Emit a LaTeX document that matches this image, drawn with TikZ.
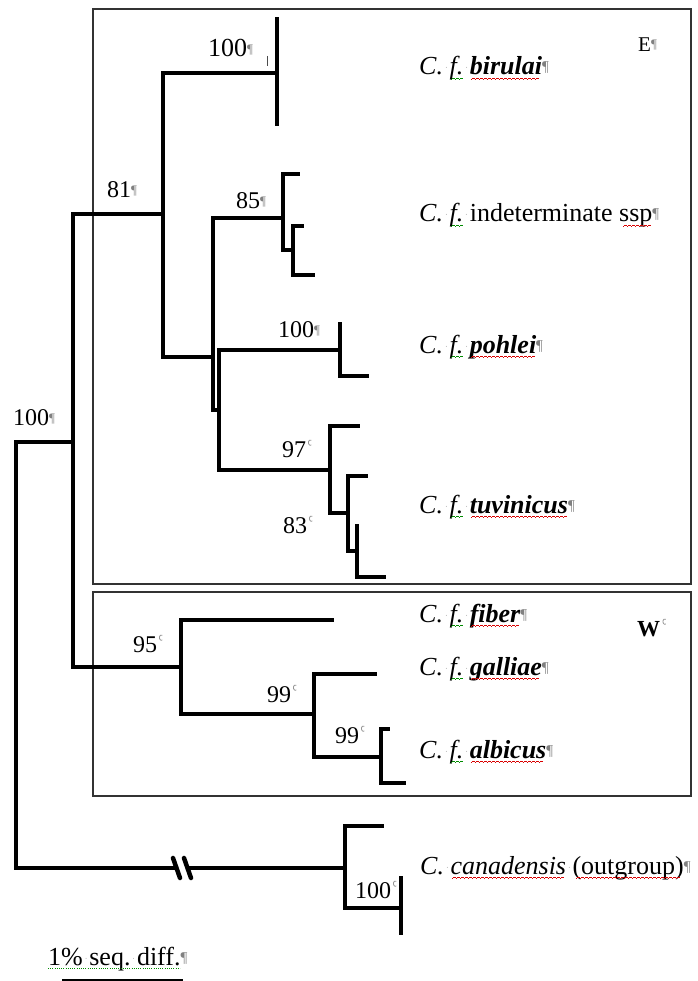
\documentclass[tikz,border=0pt]{standalone}
\usepackage{fontspec}
\setmainfont{Liberation Serif}
\usetikzlibrary{calc}

% proofing underlines: red wave (spelling), green wave (grammar),
% built from small stepped rules repeated with \leaders
\newsavebox\wordbox
\newcommand\waveunit[1]{\hbox{{\color{#1}%
  \rule[-4.8pt]{1pt}{0.8pt}\rule[-4.1pt]{1pt}{0.8pt}%
  \rule[-3.4pt]{1pt}{0.8pt}\rule[-4.1pt]{1pt}{0.8pt}}}}
\newcommand\wavyunder[2]{\sbox\wordbox{#2}\rlap{\usebox\wordbox}%
  \leaders\waveunit{#1}\hskip\wd\wordbox\relax}
\newcommand\spellwave[1]{\wavyunder{red!85!black}{#1}}
\newcommand\grammarwave[1]{\wavyunder{green!55!black}{#1}}
% paragraph mark and visible space
\newcommand\pil[1][15]{\textcolor{gray}{\fontsize{#1}{#1}\selectfont\raisebox{3pt}{¶}}}
\newcommand\wsp{\makebox[0.25em]{\raisebox{4pt}{\textcolor{gray!80}{\fontsize{8}{8}\selectfont ·}}}}

\tikzset{
  branch/.style={line width=3.3pt, line cap=rect, line join=miter, black},
  frame/.style={draw=black!80, line width=1.3pt},
  taxon/.style={anchor=base west, inner sep=0pt, font=\fontsize{26}{30}\selectfont},
  support/.style={anchor=base west, inner sep=0pt, font=\fontsize{24}{28}\selectfont},
  clade/.style={anchor=base west, inner sep=0pt, font=\fontsize{21}{24}\selectfont},
  cellmark/.style={draw=gray!85, line width=0.8pt},
  breakmark/.style={line width=4.5pt, line cap=round, black},
}

\begin{document}
\begin{tikzpicture}[x=1pt,y=-1pt]
\fill[white] (0,0) rectangle (697,981);
\useasboundingbox (0,0) rectangle (697,981);

% clade frames
\draw[frame] (93,9) rectangle (691,584);
\draw[frame] (93,592) rectangle (691,796);

% internal nodes (x of the vertical bar, y where the parent edge joins)
\coordinate (R)    at (16,655);
\coordinate (A)    at (73,442);
\coordinate (E81)  at (163,214);
\coordinate (Bir)  at (277,73);
\coordinate (Nx)   at (213,357);
\coordinate (Ind)  at (283,218);
\coordinate (Ind2) at (293,250);
\coordinate (PT)   at (219,410);
\coordinate (Poh)  at (340,350);
\coordinate (Tuv)  at (330,470);
\coordinate (Tuv2) at (348,513);
\coordinate (Tuv3) at (357,551);
\coordinate (W95)  at (181,667);
\coordinate (G99)  at (314,714);
\coordinate (Al99) at (381,757);
\coordinate (OG)   at (345,868);
\coordinate (OG2)  at (401,908);

% tips
\coordinate (tBirA) at (277,19);
\coordinate (tBirB) at (277,124);
\coordinate (tIndA) at (298,174);
\coordinate (tIndB) at (302,226);
\coordinate (tIndC) at (313,275);
\coordinate (tPohA) at (340,324);
\coordinate (tPohB) at (367,376);
\coordinate (tTuvA) at (358,426);
\coordinate (tTuvB) at (366,476);
\coordinate (tTuvC) at (357,526);
\coordinate (tTuvD) at (384,577);
\coordinate (tFib)  at (332,620);
\coordinate (tGal)  at (375,674);
\coordinate (tAlbA) at (388,729);
\coordinate (tAlbB) at (404,783);
\coordinate (tCan)  at (382,826);
\coordinate (tOGA)  at (401,878);
\coordinate (tOGB)  at (401,933);

% long-branch break
\coordinate (brkL) at (174,868);
\coordinate (brkR) at (190,868);
\coordinate (bk1a) at (173,858);
\coordinate (bk1b) at (180,878);
\coordinate (bk2a) at (184,858);
\coordinate (bk2b) at (191,878);

% vertical bars
\draw[branch] (R |- A) -- (R |- OG);
\draw[branch] (A |- E81) -- (A |- W95);
\draw[branch] (E81 |- Bir) -- (E81 |- Nx);
\draw[branch] (tBirA) -- (tBirB);
\draw[branch] (Nx |- Ind) -- (Nx |- PT);
\draw[branch] (Ind |- tIndA) -- (Ind |- Ind2);
\draw[branch] (Ind2 |- tIndB) -- (Ind2 |- tIndC);
\draw[branch] (PT |- Poh) -- (PT |- Tuv);
\draw[branch] (tPohA) -- (Poh |- tPohB);
\draw[branch] (Tuv |- tTuvA) -- (Tuv |- Tuv2);
\draw[branch] (Tuv2 |- tTuvB) -- (Tuv2 |- Tuv3);
\draw[branch] (tTuvC) -- (Tuv3 |- tTuvD);
\draw[branch] (W95 |- tFib) -- (W95 |- G99);
\draw[branch] (G99 |- tGal) -- (G99 |- Al99);
\draw[branch] (Al99 |- tAlbA) -- (Al99 |- tAlbB);
\draw[branch] (OG |- tCan) -- (OG |- OG2);
\draw[branch] (tOGA) -- (tOGB);

% horizontal edges
\draw[branch] (R |- A) -- (A);
\draw[branch] (A |- E81) -- (E81);
\draw[branch] (A |- W95) -- (W95);
\draw[branch] (E81 |- Bir) -- (Bir);
\draw[branch] (E81 |- Nx) -- (Nx);
\draw[branch] (Nx |- Ind) -- (Ind);
\draw[branch] (Nx |- PT) -- (PT);
\draw[branch] (Ind |- tIndA) -- (tIndA);
\draw[branch] (Ind |- Ind2) -- (Ind2);
\draw[branch] (Ind2 |- tIndB) -- (tIndB);
\draw[branch] (Ind2 |- tIndC) -- (tIndC);
\draw[branch] (PT |- Poh) -- (Poh);
\draw[branch] (PT |- Tuv) -- (Tuv);
\draw[branch] (Poh |- tPohB) -- (tPohB);
\draw[branch] (Tuv |- tTuvA) -- (tTuvA);
\draw[branch] (Tuv |- Tuv2) -- (Tuv2);
\draw[branch] (Tuv2 |- tTuvB) -- (tTuvB);
\draw[branch] (Tuv2 |- Tuv3) -- (Tuv3);
\draw[branch] (Tuv3 |- tTuvD) -- (tTuvD);
\draw[branch] (W95 |- tFib) -- (tFib);
\draw[branch] (W95 |- G99) -- (G99);
\draw[branch] (G99 |- tGal) -- (tGal);
\draw[branch] (G99 |- Al99) -- (Al99);
\draw[branch] (Al99 |- tAlbA) -- (tAlbA);
\draw[branch] (Al99 |- tAlbB) -- (tAlbB);
\draw[branch] (OG |- tCan) -- (tCan);
\draw[branch] (OG |- OG2) -- (OG2);
\draw[branch] (R |- OG) -- (brkL);
\draw[branch] (brkR) -- (OG);
\draw[breakmark] (bk1a) -- (bk1b);
\draw[breakmark] (bk2a) -- (bk2b);

% clade letters
\node[clade] (labE) at (638,52) {E\pil[13]};
\node[clade, font=\fontsize{23}{26}\selectfont\bfseries] (labW) at (637,636) {W};
\draw[cellmark] ($(labW.base east)+(5.5,-12)$) arc[start angle=60, end angle=300, x radius=2, y radius=2.8];

% taxon names
\node[taxon] (taxBir) at (419,75)
  {\itshape C.\wsp\grammarwave{f.}\wsp{\bfseries\spellwave{birulai}}\upshape\pil};
\node[taxon] (taxInd) at (419,222)
  {{\itshape C.\wsp\grammarwave{f.}}\wsp indeterminate \spellwave{ssp}\pil};
\node[taxon] (taxPoh) at (419,353)
  {\itshape C.\wsp\grammarwave{f.}\wsp{\bfseries\spellwave{pohlei}}\upshape\pil};
\node[taxon] (taxTuv) at (419,513)
  {\itshape C.\wsp\grammarwave{f.}\wsp{\bfseries\spellwave{tuvinicus}}\upshape\pil};
\node[taxon] (taxFib) at (419,622)
  {\itshape C.\wsp\grammarwave{f.}\wsp{\bfseries\spellwave{fiber}}\upshape\pil};
\node[taxon] (taxGal) at (419,675)
  {\itshape C.\wsp\grammarwave{f.}\wsp{\bfseries\spellwave{galliae}}\upshape\pil};
\node[taxon] (taxAlb) at (419,758)
  {\itshape C.\wsp\grammarwave{f.}\wsp{\bfseries\spellwave{albicus}}\upshape\pil};
\node[taxon] (taxCan) at (420,874)
  {{\itshape C.\wsp\spellwave{canadensis}}\wsp\spellwave{(outgroup)}\pil};

% tick beside the top support value
\coordinate (tickA) at (267,56);
\coordinate (tickB) at (267,66);
\draw[line width=1pt, black!70] (tickA) -- (tickB);

% support values
\node[support, font=\fontsize{26}{30}\selectfont] (s100a) at (208,57) {100\pil[13]};
\node[support] (s81)   at (107,198) {81\pil[13]};
\node[support] (s85)   at (236,209) {85\pil[13]};
\node[support] (s100b) at (278,337) {100\pil[13]};
\node[support] (s100r) at (13,425)  {100\pil[13]};
\node[support] (s97)   at (282,457) {97};
\node[support] (s83)   at (283,533) {83};
\node[support] (s95)   at (133,652) {95};
\node[support] (s99a)  at (267,702) {99};
\node[support] (s99b)  at (335,743) {99};
\node[support] (s100o) at (355,898) {100};
\foreach \s in {s97,s83,s95,s99a,s99b,s100o}
  \draw[cellmark] ($(\s.base east)+(5,-12)$) arc[start angle=60, end angle=300, x radius=2, y radius=2.8];

% scale bar
\node[taxon] (scaleTxt) at (48,965) {1\%\wsp seq.\wsp diff.\pil};
\draw[green!55!black, line width=0.9pt, dash pattern=on 0.9pt off 1.3pt]
  ($(scaleTxt.base west)+(0,3.5)$) -- ++(132,0);
\coordinate (barL) at (62,981);
\coordinate (barR) at (183,981);
\draw[line width=5pt, black] (barL) -- (barR);
\end{tikzpicture}
\end{document}
